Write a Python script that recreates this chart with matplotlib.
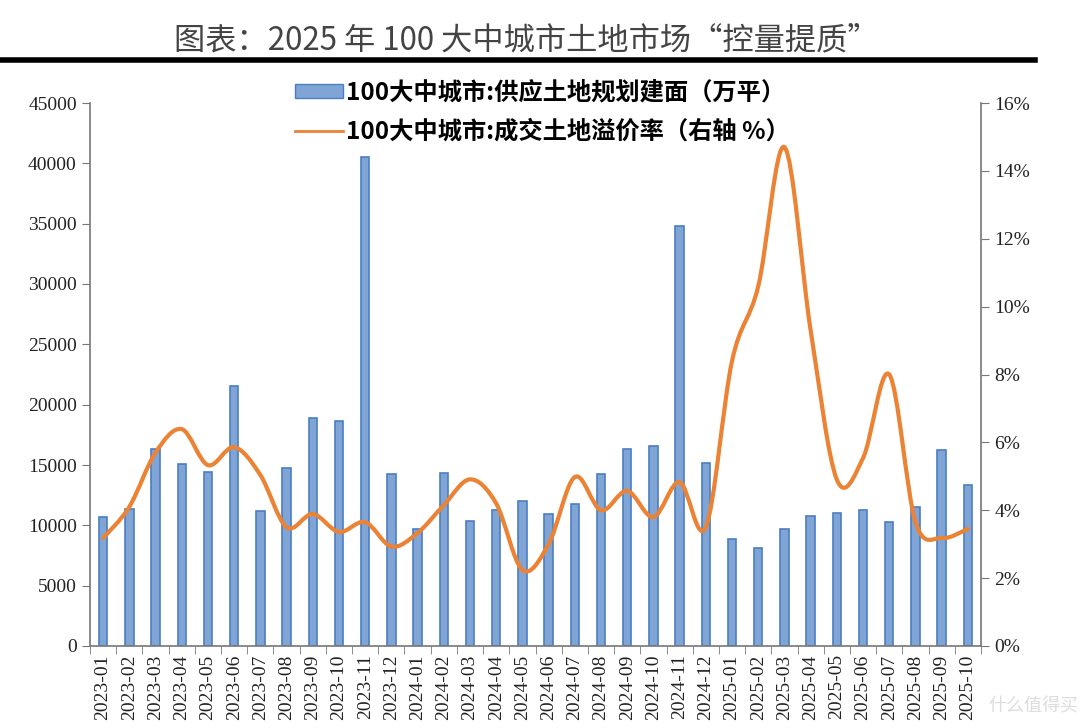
import numpy as np
import matplotlib
matplotlib.use("Agg")
import matplotlib.pyplot as plt
from matplotlib.path import Path
from matplotlib.patches import PathPatch, Patch
from matplotlib.lines import Line2D

plt.rcParams['font.family'] = ['Liberation Serif', 'Noto Sans CJK SC', 'DejaVu Sans']

months = ['2023-01', '2023-02', '2023-03', '2023-04', '2023-05', '2023-06', '2023-07', '2023-08',
          '2023-09', '2023-10', '2023-11', '2023-12', '2024-01', '2024-02', '2024-03', '2024-04',
          '2024-05', '2024-06', '2024-07', '2024-08', '2024-09', '2024-10', '2024-11', '2024-12',
          '2025-01', '2025-02', '2025-03', '2025-04', '2025-05', '2025-06', '2025-07', '2025-08',
          '2025-09', '2025-10']
supply = [10700, 11350, 16300, 15100, 14400, 21550, 11200, 14750, 18900, 18650, 40500, 14250,
          9700, 14330, 10400, 11250, 12000, 10950, 11750, 14250, 16300, 16600, 34800, 15150,
          8870, 8130, 9700, 10800, 11000, 11300, 10300, 11500, 16250, 13350]
premium = [3.18, 4.1, 5.7, 6.39, 5.33, 5.86, 5.04, 3.5, 3.89, 3.36, 3.65, 2.93,
           3.33, 4.15, 4.91, 4.2, 2.24, 3.0, 4.98, 4.0, 4.57, 3.8, 4.83, 3.5,
           8.4, 10.6, 14.7, 9.3, 4.9, 5.54, 8.0, 3.65, 3.18, 3.45]

title = '图表：2025 年 100 大中城市土地市场“控量提质”'
label_bar = '100大中城市:供应土地规划建面（万平）'
label_line = '100大中城市:成交土地溢价率（右轴 %）'

fig = plt.figure(figsize=(10.8, 7.28), dpi=100)
ax = fig.add_axes([90/1080, 1-646/728, (981-90)/1080, (646-103)/728])
ax2 = ax.twinx()

x = np.arange(len(months))
ax.bar(x, supply, width=0.32, color='#80A5D5', edgecolor='#4A7EC4', linewidth=1.2, zorder=2)

ax.set_xlim(-0.5, len(months) - 0.5)
ax.set_ylim(0, 45000)
ax.set_yticks(np.arange(0, 45001, 5000))
ax2.set_ylim(0, 16)
ax2.set_yticks(np.arange(0, 17, 2))
ax2.set_yticklabels([f'{v}%' for v in range(0, 17, 2)])

# Smoothed line (Excel-like bezier) built from the data points
pts = np.column_stack([x, premium]).astype(float)
t = 1/6
verts = [tuple(pts[0])]
codes = [Path.MOVETO]
n = len(pts)
for i in range(n - 1):
    p0 = pts[i - 1] if i > 0 else pts[i]
    p1 = pts[i]
    p2 = pts[i + 1]
    p3 = pts[i + 2] if i + 2 < n else pts[i + 1]
    c1 = p1 + (p2 - p0) * t
    c2 = p2 - (p3 - p1) * t
    verts += [tuple(c1), tuple(c2), tuple(p2)]
    codes += [Path.CURVE4] * 3
path = Path(verts, codes)
ax2.add_patch(PathPatch(path, facecolor='none', edgecolor='#EB8234', lw=3, zorder=3,
                        capstyle='round', joinstyle='round'))

ax.set_xticks(x)
ax.set_xticklabels(months, rotation=90, fontsize=14, color='#222')
ax.set_xticks(np.arange(-0.5, len(months), 1), minor=True)
ax.tick_params(axis='x', which='major', length=0, pad=6)
ax.tick_params(axis='x', which='minor', length=6, color='#777', direction='out')
ax.tick_params(axis='y', labelsize=14, labelcolor='#222', length=6, direction='out', color='#777')
ax2.tick_params(axis='y', labelsize=14, length=6, direction='out', color='#777', labelcolor='#222')

for a in (ax, ax2):
    a.spines['top'].set_visible(False)
    for s in ('left', 'right', 'bottom'):
        a.spines[s].set_color('#777')
        a.spines[s].set_linewidth(1.2)
ax.spines['right'].set_visible(False)
ax2.spines['left'].set_visible(False)
ax2.spines['bottom'].set_visible(False)

handles = [Patch(facecolor='#80A5D5', edgecolor='#4A7EC4', linewidth=1.0),
           Line2D([], [], color='#EB8234', lw=2)]
leg = ax2.legend(handles, [label_bar, label_line], loc='upper center',
                 bbox_to_anchor=(0.508, 1.072), frameon=False, ncol=1,
                 prop={'family': ['Noto Sans CJK SC'], 'weight': 'bold', 'size': 17.5},
                 handlelength=1.95, handleheight=0.5, handletextpad=0.15, labelspacing=0.62,
                 borderpad=0.2)

fig.text(0.487, 0.944, title, ha='center', va='center', fontsize=22.5,
         family=['Noto Sans CJK SC'], color='#444')
fig.add_artist(Line2D([0.0, 1035/1080], [1-60/728, 1-60/728], color='black', lw=4,
                      transform=fig.transFigure))

fig.text(0.998, 0.018, '什么值得买', ha='right', va='bottom', fontsize=13,
         family=['Noto Sans CJK SC'], color='#dddddd')

fig.savefig('out.png', dpi=100, facecolor='white')
